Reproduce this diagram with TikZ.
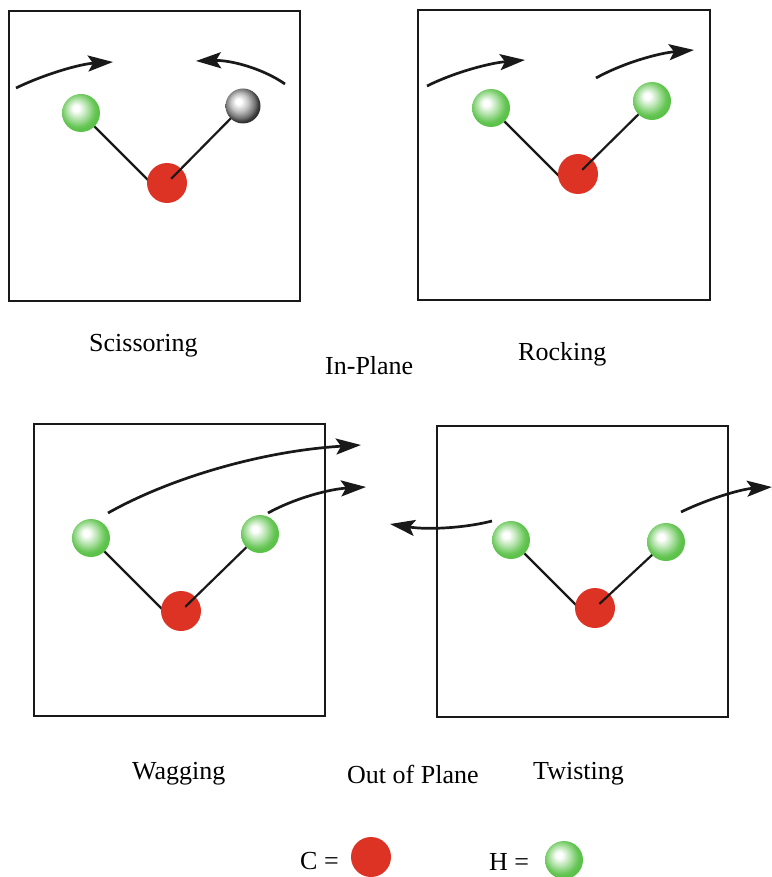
\documentclass[tikz,border=0pt]{standalone}
\usepackage{fontspec}
\setmainfont{Liberation Serif}
\usetikzlibrary{arrows.meta,calc}

% flat carbon colour, hydrogen spheres with a white highlight
\definecolor{carbon}{RGB}{221,51,36}
\definecolor{hgreen}{RGB}{92,194,74}
\pgfdeclareradialshading{hsphere}{\pgfpoint{-7bp}{7bp}}{%
  color(0bp)=(white); color(4bp)=(white);
  color(13bp)=(hgreen!45!white); color(22bp)=(hgreen!92!white);
  color(25bp)=(hgreen); color(50bp)=(hgreen)}
\pgfdeclareradialshading{gsphere}{\pgfpoint{-7bp}{7bp}}{%
  color(0bp)=(white); color(4bp)=(white);
  color(13bp)=(black!25); color(21bp)=(black!55);
  color(26bp)=(black!80); color(50bp)=(black!80)}

\tikzset{
  frame/.style={draw=black!90, line width=2pt},
  cball/.style={circle, fill=carbon, minimum size=40pt, inner sep=0pt},
  hball/.style={circle, shading=hsphere, minimum size=38pt, inner sep=0pt},
  gball/.style={circle, shading=gsphere, minimum size=35pt, inner sep=0pt},
  bond/.style={draw=black!90, line width=2.2pt},
  motion/.style={draw=black!90, line width=2.7pt,
    -{Stealth[length=25pt,width=16pt,inset=5pt]}},
  lbl/.style={anchor=base west, inner sep=0pt, font=\fontsize{26}{30}\selectfont}
}

\begin{document}
\begin{tikzpicture}[x=1pt,y=-1pt]
\useasboundingbox (0,0) rectangle (771,877);

% ---------- frames ----------
\draw[frame] (9,11) rectangle (300,301);     % scissoring
\draw[frame] (418,10) rectangle (710,300);   % rocking
\draw[frame] (34,424) rectangle (325,716);   % wagging
\draw[frame] (437,426) rectangle (728,717);  % twisting

% ---------- atom positions ----------
\coordinate (p1c) at (167,183); \coordinate (p1l) at (81,113);  \coordinate (p1r) at (243,106);
\coordinate (p2c) at (578,174); \coordinate (p2l) at (491,108); \coordinate (p2r) at (652,101);
\coordinate (p3c) at (181,611); \coordinate (p3l) at (91,538);  \coordinate (p3r) at (260,534);
\coordinate (p4c) at (595,608); \coordinate (p4l) at (511,540); \coordinate (p4r) at (666,542);

% left bonds run at 45 degrees and disappear under the carbon
\foreach \l/\t in {p1l/76, p2l/76, p3l/80, p4l/76}
  \draw[bond] (\l) -- ++(\t,\t);

% carbons
\foreach \c in {p1c,p2c,p3c,p4c}
  \node[cball] (C\c) at (\c) {};

% right bonds are drawn over the carbon
\foreach \c/\r in {p1c/p1r, p2c/p2r, p3c/p3r, p4c/p4r}
  \draw[bond] (\r) -- ($(C\c.center)!6pt!(\r)$);

% hydrogens (one grey sphere in the scissoring panel)
\node[hball] (H1l) at (p1l) {};
\node[gball] (H1r) at (p1r) {};
\node[hball] (H2l) at (p2l) {};
\node[hball] (H2r) at (p2r) {};
\node[hball] (H3l) at (p3l) {};
\node[hball] (H3r) at (p3r) {};
\node[hball] (H4l) at (p4l) {};
\node[hball] (H4r) at (p4r) {};

% ---------- motion arrows ----------
\coordinate (a1s) at (16,88);  \coordinate (a1e) at (113,62);
\coordinate (a2s) at (285,84); \coordinate (a2e) at (196,61);
\draw[motion] (a1s) .. controls (45,74) and (80,64) .. (a1e);
\draw[motion] (a2s) .. controls (262,68) and (230,60) .. (a2e);

\coordinate (a3s) at (427,86);  \coordinate (a3e) at (525,60);
\coordinate (a4s) at (596,78);  \coordinate (a4e) at (694,50);
\draw[motion] (a3s) .. controls (455,72) and (490,63) .. (a3e);
\draw[motion] (a4s) .. controls (625,62) and (660,53) .. (a4e);

\coordinate (a5s) at (108,513); \coordinate (a5e) at (361,445);
\coordinate (a6s) at (268,513); \coordinate (a6e) at (366,487);
\draw[motion] (a5s) .. controls (170,478) and (262,451) .. (a5e);
\draw[motion] (a6s) .. controls (295,498) and (330,489) .. (a6e);

\coordinate (a7s) at (492,521); \coordinate (a7e) at (390,524);
\coordinate (a8s) at (681,512); \coordinate (a8e) at (772,487);
\draw[motion] (a7s) .. controls (465,528) and (428,530) .. (a7e);
\draw[motion] (a8s) .. controls (710,498) and (742,489) .. (a8e);

% ---------- labels ----------
\node[lbl] (t1) at (89,351) {Scissoring};
\node[lbl] (t2) at (325,374) {In-Plane};
\node[lbl] (t3) at (518,360) {Rocking};
\node[lbl] (t4) at (132,779) {Wagging};
\node[lbl] (t5) at (347,783) {Out of Plane};
\node[lbl] (t6) at (533,779) {Twisting};

% ---------- legend ----------
\node[lbl] (lc) at (300,869) {C =};
\node[cball] (kc) at (371,857) {};
\node[lbl] (lh) at (489,870) {H =};
\node[hball] (kh) at (564,860) {};
\end{tikzpicture}
\end{document}
